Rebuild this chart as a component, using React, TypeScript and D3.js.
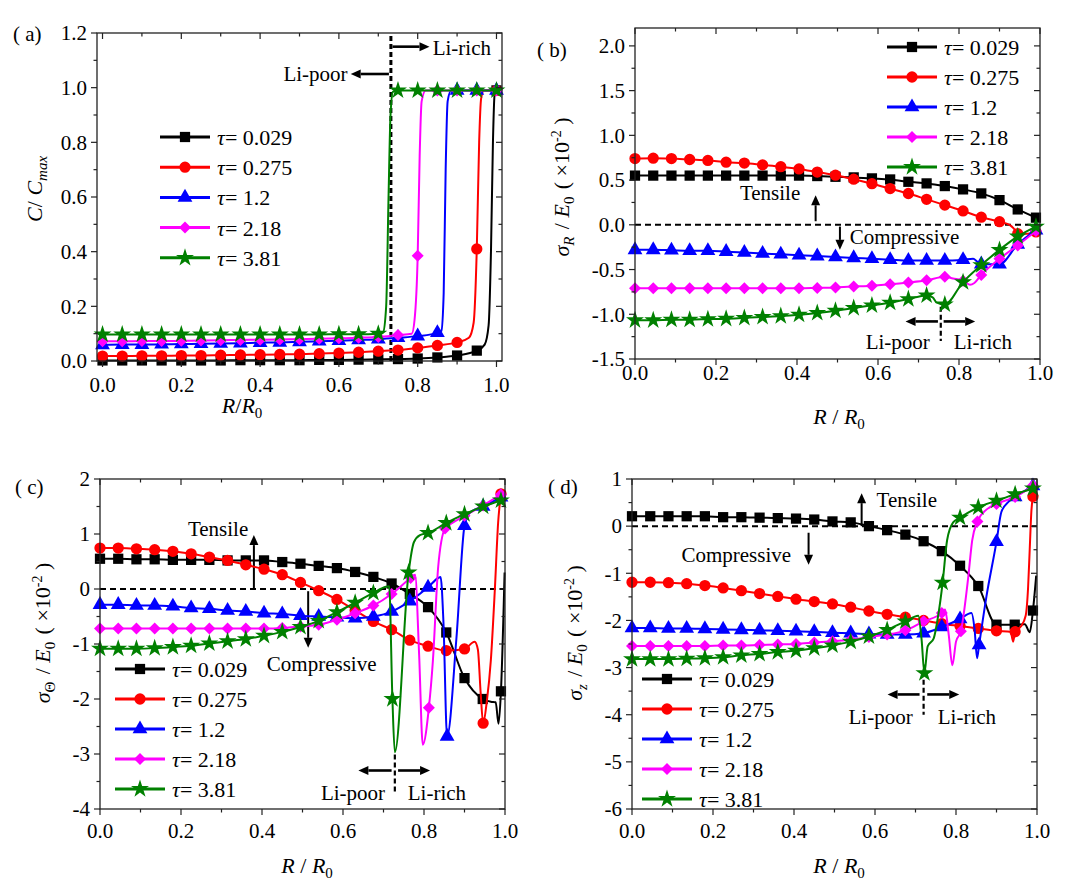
import React from "react";
import * as d3 from "d3";

// [R/R0, value, 1 = marker drawn]
type Pt = [number, number, number?];

const tauLabels = ["0.029", "0.275", "1.2", "2.18", "3.81"];
const seriesColors = ["#000000", "#ff0000", "#0000ff", "#ff00ff", "#008000"];
const seriesSymbols = ["square", "circle", "triangle", "diamond", "star"];

const xMajor = [0, 0.2, 0.4, 0.6, 0.8, 1.0];
const xMinor = [0.1, 0.3, 0.5, 0.7, 0.9];

// ---- (a) concentration C / Cmax
const aBlack: Pt[] = [
  [0, 0.002, 1], [0.05, 0.002, 1], [0.1, 0.002, 1], [0.15, 0.002, 1], [0.2, 0.002, 1], [0.25, 0.002, 1],
  [0.3, 0.002, 1], [0.35, 0.003, 1], [0.4, 0.003, 1], [0.45, 0.003, 1], [0.5, 0.003, 1], [0.55, 0.004, 1],
  [0.6, 0.004, 1], [0.65, 0.005, 1], [0.7, 0.006, 1], [0.75, 0.007, 1], [0.8, 0.009, 1], [0.85, 0.013, 1],
  [0.9, 0.02, 1], [0.95, 0.038, 1], [0.97, 0.06], [0.98, 0.13], [0.986, 0.4], [0.991, 0.8], [0.995, 0.97], [1, 0.99, 1],
];
const aRed: Pt[] = [
  [0, 0.018, 1], [0.05, 0.018, 1], [0.1, 0.019, 1], [0.15, 0.019, 1], [0.2, 0.02, 1], [0.25, 0.02, 1],
  [0.3, 0.021, 1], [0.35, 0.022, 1], [0.4, 0.023, 1], [0.45, 0.024, 1], [0.5, 0.025, 1], [0.55, 0.027, 1],
  [0.6, 0.029, 1], [0.65, 0.032, 1], [0.7, 0.036, 1], [0.75, 0.04, 1], [0.8, 0.048, 1], [0.85, 0.057, 1],
  [0.9, 0.068, 1], [0.93, 0.085], [0.942, 0.14], [0.95, 0.41, 1], [0.956, 0.8], [0.961, 0.96], [0.968, 0.99], [1, 0.99, 1],
];
const aBlue: Pt[] = [
  [0, 0.059, 1], [0.05, 0.06, 1], [0.1, 0.06, 1], [0.15, 0.061, 1], [0.2, 0.062, 1], [0.25, 0.063, 1],
  [0.3, 0.064, 1], [0.35, 0.065, 1], [0.4, 0.067, 1], [0.45, 0.068, 1], [0.5, 0.07, 1], [0.55, 0.072, 1],
  [0.6, 0.074, 1], [0.65, 0.077, 1], [0.7, 0.08, 1], [0.75, 0.085, 1], [0.8, 0.091, 1], [0.85, 0.103, 1],
  [0.86, 0.11], [0.866, 0.25], [0.871, 0.7], [0.876, 0.95], [0.885, 0.99], [0.9, 0.99, 1], [0.95, 0.99, 1], [1, 0.99, 1],
];
const aMagenta: Pt[] = [
  [0, 0.072, 1], [0.05, 0.072, 1], [0.1, 0.073, 1], [0.15, 0.073, 1], [0.2, 0.074, 1], [0.25, 0.075, 1],
  [0.3, 0.076, 1], [0.35, 0.077, 1], [0.4, 0.078, 1], [0.45, 0.079, 1], [0.5, 0.08, 1], [0.55, 0.081, 1],
  [0.6, 0.083, 1], [0.65, 0.085, 1], [0.7, 0.088, 1], [0.75, 0.095, 1], [0.785, 0.1], [0.792, 0.15],
  [0.8, 0.385, 1], [0.805, 0.75], [0.81, 0.95], [0.82, 0.99], [0.85, 0.99, 1], [0.9, 0.99, 1], [0.95, 0.99, 1], [1, 0.99, 1],
];
const aGreen: Pt[] = [
  [0, 0.097, 1], [0.05, 0.097, 1], [0.1, 0.097, 1], [0.15, 0.097, 1], [0.2, 0.097, 1], [0.25, 0.097, 1],
  [0.3, 0.097, 1], [0.35, 0.097, 1], [0.4, 0.097, 1], [0.45, 0.097, 1], [0.5, 0.097, 1], [0.55, 0.097, 1],
  [0.6, 0.098, 1], [0.65, 0.098, 1], [0.7, 0.1, 1], [0.712, 0.105], [0.72, 0.2], [0.726, 0.6], [0.731, 0.9],
  [0.737, 0.985], [0.75, 0.99, 1], [0.8, 0.99, 1], [0.85, 0.99, 1], [0.9, 0.99, 1], [0.95, 0.99, 1], [1, 0.99, 1],
];

// ---- (b) radial stress
const bBlack: Pt[] = [
  [0, 0.55, 1], [0.045, 0.55, 1], [0.09, 0.55, 1], [0.135, 0.55, 1], [0.18, 0.55, 1], [0.225, 0.55, 1],
  [0.27, 0.55, 1], [0.315, 0.55, 1], [0.36, 0.55, 1], [0.405, 0.55, 1], [0.45, 0.545, 1], [0.495, 0.537, 1],
  [0.54, 0.53, 1], [0.585, 0.519, 1], [0.63, 0.507, 1], [0.675, 0.481, 1], [0.72, 0.463, 1], [0.765, 0.433, 1],
  [0.81, 0.396, 1], [0.855, 0.351, 1], [0.9, 0.276, 1], [0.945, 0.172, 1], [0.99, 0.08, 1],
];
const bRed: Pt[] = [
  [0, 0.74, 1], [0.045, 0.745, 1], [0.09, 0.74, 1], [0.135, 0.73, 1], [0.18, 0.72, 1], [0.225, 0.7, 1],
  [0.27, 0.69, 1], [0.315, 0.67, 1], [0.36, 0.65, 1], [0.405, 0.625, 1], [0.45, 0.59, 1], [0.495, 0.555, 1],
  [0.54, 0.51, 1], [0.585, 0.46, 1], [0.63, 0.405, 1], [0.675, 0.35, 1], [0.72, 0.285, 1], [0.765, 0.22, 1],
  [0.81, 0.155, 1], [0.855, 0.085, 1], [0.9, 0.035, 1], [0.925, 0.0], [0.935, -0.04], [0.945, -0.1, 1],
  [0.97, -0.1], [0.99, -0.08, 1],
];
const bBlue: Pt[] = [
  [0, -0.28, 1], [0.045, -0.28, 1], [0.09, -0.285, 1], [0.135, -0.29, 1], [0.18, -0.29, 1], [0.225, -0.3, 1],
  [0.27, -0.31, 1], [0.315, -0.32, 1], [0.36, -0.33, 1], [0.405, -0.34, 1], [0.45, -0.35, 1], [0.495, -0.36, 1],
  [0.54, -0.37, 1], [0.585, -0.38, 1], [0.63, -0.39, 1], [0.675, -0.4, 1], [0.72, -0.4, 1], [0.765, -0.4, 1],
  [0.81, -0.39, 1], [0.835, -0.38], [0.845, -0.41], [0.855, -0.44, 1], [0.9, -0.44, 1], [0.945, -0.22, 1], [0.99, -0.06, 1],
];
const bMagenta: Pt[] = [
  [0, -0.71, 1], [0.045, -0.71, 1], [0.09, -0.71, 1], [0.135, -0.71, 1], [0.18, -0.71, 1], [0.225, -0.71, 1],
  [0.27, -0.71, 1], [0.315, -0.71, 1], [0.36, -0.71, 1], [0.405, -0.71, 1], [0.45, -0.705, 1], [0.495, -0.7, 1],
  [0.54, -0.69, 1], [0.585, -0.68, 1], [0.63, -0.665, 1], [0.675, -0.645, 1], [0.72, -0.62, 1], [0.765, -0.58, 1],
  [0.785, -0.6], [0.81, -0.625, 1], [0.827, -0.67], [0.838, -0.65], [0.855, -0.56, 1], [0.9, -0.38, 1],
  [0.945, -0.23, 1], [0.99, -0.07, 1],
];
const bGreen: Pt[] = [
  [0, -1.067, 1], [0.045, -1.067, 1], [0.09, -1.06, 1], [0.135, -1.06, 1], [0.18, -1.055, 1], [0.225, -1.05, 1],
  [0.27, -1.04, 1], [0.315, -1.03, 1], [0.36, -1.02, 1], [0.405, -1.005, 1], [0.45, -0.985, 1], [0.495, -0.96, 1],
  [0.54, -0.93, 1], [0.585, -0.9, 1], [0.63, -0.87, 1], [0.675, -0.83, 1], [0.72, -0.79, 1], [0.735, -0.81],
  [0.745, -0.87], [0.765, -0.89, 1], [0.81, -0.64, 1], [0.855, -0.45, 1], [0.9, -0.28, 1], [0.945, -0.13, 1],
  [0.99, -0.02, 1],
];

// ---- (c) hoop stress
const cBlack: Pt[] = [
  [0, 0.55, 1], [0.045, 0.55, 1], [0.09, 0.54, 1], [0.135, 0.54, 1], [0.18, 0.53, 1], [0.225, 0.53, 1],
  [0.27, 0.53, 1], [0.315, 0.52, 1], [0.36, 0.52, 1], [0.405, 0.52, 1], [0.45, 0.49, 1], [0.495, 0.46, 1],
  [0.54, 0.42, 1], [0.585, 0.38, 1], [0.63, 0.31, 1], [0.675, 0.22, 1], [0.72, 0.1, 1], [0.765, -0.09, 1],
  [0.81, -0.33, 1], [0.855, -0.79, 1], [0.9, -1.62, 1], [0.945, -2.0, 1], [0.965, -2.05], [0.977, -2.06],
  [0.984, -2.45], [0.99, -1.86, 1], [0.999, 0.3],
];
const cRed: Pt[] = [
  [0, 0.745, 1], [0.045, 0.745, 1], [0.09, 0.73, 1], [0.135, 0.715, 1], [0.18, 0.685, 1], [0.225, 0.64, 1],
  [0.27, 0.58, 1], [0.315, 0.52, 1], [0.36, 0.44, 1], [0.405, 0.36, 1], [0.45, 0.26, 1], [0.495, 0.12, 1],
  [0.54, -0.03, 1], [0.585, -0.19, 1], [0.63, -0.39, 1], [0.675, -0.59, 1], [0.72, -0.74, 1], [0.765, -0.93, 1],
  [0.81, -1.04, 1], [0.855, -1.12, 1], [0.9, -1.09, 1], [0.925, -0.96], [0.933, -1.1], [0.94, -1.9],
  [0.946, -2.44, 1], [0.955, -2.05], [0.965, -1.3], [0.975, 0.0], [0.983, 1.2], [0.99, 1.73, 1],
];
const cBlue: Pt[] = [
  [0, -0.285, 1], [0.045, -0.285, 1], [0.09, -0.3, 1], [0.135, -0.3, 1], [0.18, -0.315, 1], [0.225, -0.345, 1],
  [0.27, -0.36, 1], [0.315, -0.39, 1], [0.36, -0.41, 1], [0.405, -0.44, 1], [0.45, -0.455, 1], [0.495, -0.485, 1],
  [0.54, -0.5, 1], [0.585, -0.515, 1], [0.63, -0.53, 1], [0.675, -0.5, 1], [0.72, -0.41, 1], [0.765, -0.22, 1],
  [0.81, 0.03, 1], [0.835, 0.2], [0.841, 0.22], [0.848, -0.6], [0.857, -2.68, 1], [0.88, -0.9], [0.9, 1.15, 1],
  [0.912, 1.38], [0.946, 1.5, 1], [0.99, 1.67, 1],
];
const cMagenta: Pt[] = [
  [0, -0.72, 1], [0.045, -0.72, 1], [0.09, -0.72, 1], [0.135, -0.72, 1], [0.18, -0.72, 1], [0.225, -0.72, 1],
  [0.27, -0.72, 1], [0.315, -0.72, 1], [0.36, -0.72, 1], [0.405, -0.72, 1], [0.45, -0.71, 1], [0.495, -0.68, 1],
  [0.54, -0.65, 1], [0.585, -0.56, 1], [0.63, -0.44, 1], [0.675, -0.3, 1], [0.72, -0.09, 1], [0.767, 0.2, 1],
  [0.778, 0.26], [0.788, -1.2], [0.797, -2.83], [0.812, -2.16, 1], [0.822, -1.3], [0.835, 0.4], [0.852, 1.1, 1],
  [0.87, 1.2], [0.9, 1.33, 1], [0.946, 1.52, 1], [0.99, 1.72, 1],
];
const cGreen: Pt[] = [
  [0, -1.085, 1], [0.045, -1.085, 1], [0.09, -1.085, 1], [0.135, -1.075, 1], [0.18, -1.055, 1], [0.225, -1.03, 1],
  [0.27, -0.99, 1], [0.315, -0.95, 1], [0.36, -0.91, 1], [0.405, -0.85, 1], [0.45, -0.78, 1], [0.495, -0.69, 1],
  [0.54, -0.58, 1], [0.585, -0.42, 1], [0.63, -0.25, 1], [0.675, -0.07, 1], [0.706, 0.04], [0.714, 0.05],
  [0.722, -2.0, 1], [0.728, -2.97], [0.762, 0.3, 1], [0.775, 0.85], [0.79, 0.98], [0.81, 1.02, 1],
  [0.855, 1.2, 1], [0.9, 1.36, 1], [0.946, 1.5, 1], [0.99, 1.61, 1],
];

// ---- (d) axial stress
const dBlack: Pt[] = [
  [0, 0.21, 1], [0.045, 0.21, 1], [0.09, 0.21, 1], [0.135, 0.21, 1], [0.18, 0.21, 1], [0.225, 0.19, 1],
  [0.27, 0.19, 1], [0.315, 0.18, 1], [0.36, 0.17, 1], [0.405, 0.16, 1], [0.45, 0.14, 1], [0.495, 0.1, 1],
  [0.54, 0.08, 1], [0.585, 0.0, 1], [0.63, -0.085, 1], [0.675, -0.18, 1], [0.72, -0.32, 1], [0.765, -0.53, 1],
  [0.81, -0.84, 1], [0.855, -1.27, 1], [0.9, -2.09, 1], [0.945, -2.09, 1], [0.97, -2.08], [0.982, -2.25],
  [0.99, -1.79, 1], [0.998, -1.05],
];
const dRed: Pt[] = [
  [0, -1.19, 1], [0.045, -1.19, 1], [0.09, -1.2, 1], [0.135, -1.22, 1], [0.18, -1.26, 1], [0.225, -1.31, 1],
  [0.27, -1.37, 1], [0.315, -1.43, 1], [0.36, -1.49, 1], [0.405, -1.55, 1], [0.45, -1.6, 1], [0.495, -1.65, 1],
  [0.54, -1.72, 1], [0.585, -1.8, 1], [0.63, -1.87, 1], [0.675, -1.93, 1], [0.72, -2.0, 1], [0.765, -2.07, 1],
  [0.81, -2.12, 1], [0.855, -2.17, 1], [0.9, -2.22, 1], [0.935, -2.24], [0.941, -2.45], [0.946, -2.24, 1],
  [0.96, -2.13], [0.972, -1.9], [0.978, -1.3], [0.982, -0.5], [0.986, 0.3], [0.99, 0.63, 1],
];
const dBlue: Pt[] = [
  [0, -2.16, 1], [0.045, -2.16, 1], [0.09, -2.17, 1], [0.135, -2.17, 1], [0.18, -2.18, 1], [0.225, -2.19, 1],
  [0.27, -2.2, 1], [0.315, -2.21, 1], [0.36, -2.22, 1], [0.405, -2.23, 1], [0.45, -2.24, 1], [0.495, -2.26, 1],
  [0.54, -2.27, 1], [0.585, -2.29, 1], [0.63, -2.3, 1], [0.675, -2.3, 1], [0.72, -2.27, 1], [0.765, -2.14, 1],
  [0.81, -1.97, 1], [0.838, -1.84], [0.846, -2.2], [0.852, -2.8], [0.857, -2.52, 1], [0.875, -1.5],
  [0.9, -0.33, 1], [0.912, 0.3], [0.93, 0.52], [0.946, 0.62, 1], [0.99, 0.85, 1],
];
const dMagenta: Pt[] = [
  [0, -2.54, 1], [0.045, -2.54, 1], [0.09, -2.54, 1], [0.135, -2.54, 1], [0.18, -2.54, 1], [0.225, -2.53, 1],
  [0.27, -2.53, 1], [0.315, -2.52, 1], [0.36, -2.51, 1], [0.405, -2.5, 1], [0.45, -2.47, 1], [0.495, -2.44, 1],
  [0.54, -2.41, 1], [0.585, -2.35, 1], [0.63, -2.3, 1], [0.675, -2.21, 1], [0.72, -2.02, 1], [0.765, -1.84, 1],
  [0.773, -1.77], [0.782, -2.3], [0.791, -2.95], [0.8, -2.45], [0.812, -2.23, 1], [0.83, -1.1], [0.84, -0.3],
  [0.853, 0.1, 1], [0.875, 0.35], [0.9, 0.47, 1], [0.946, 0.62, 1], [0.99, 0.86, 1],
];
const dGreen: Pt[] = [
  [0, -2.82, 1], [0.045, -2.82, 1], [0.09, -2.82, 1], [0.135, -2.81, 1], [0.18, -2.8, 1], [0.225, -2.78, 1],
  [0.27, -2.74, 1], [0.315, -2.71, 1], [0.36, -2.67, 1], [0.405, -2.64, 1], [0.45, -2.59, 1], [0.495, -2.53, 1],
  [0.54, -2.45, 1], [0.585, -2.34, 1], [0.63, -2.2, 1], [0.675, -2.02, 1], [0.707, -1.9], [0.715, -2.4],
  [0.722, -3.12, 1], [0.73, -2.55], [0.745, -2.38], [0.756, -1.9], [0.767, -1.2, 1], [0.778, -0.3],
  [0.793, 0.08], [0.81, 0.18, 1], [0.855, 0.4, 1], [0.9, 0.54, 1], [0.946, 0.68, 1], [0.99, 0.8, 1],
];

const FONT = "Liberation Serif, Times New Roman, serif";

const symPaths: Record<string, string> = {
  square: d3.symbol(d3.symbolSquare, 105)() || "",
  circle: d3.symbol(d3.symbolCircle, 100)() || "",
  triangle: d3.symbol(d3.symbolTriangle, 95)() || "",
  diamond: d3.symbol(d3.symbolSquare, 72)() || "",
  star: d3.symbol(d3.symbolStar, 100)() || "",
};

const Marker = ({ kind, x, y, color }: { kind: string; x: number; y: number; color: string }) => (
  <path
    d={symPaths[kind]}
    transform={`translate(${x},${y})${kind === "diamond" ? " rotate(45)" : ""}`}
    fill={color}
  />
);

const Arrow = ({ x1, y1, x2, y2, w = 2.2 }: { x1: number; y1: number; x2: number; y2: number; w?: number }) => {
  const len = Math.hypot(x2 - x1, y2 - y1);
  const ux = (x2 - x1) / len;
  const uy = (y2 - y1) / len;
  const hl = 10, hw = 4.5;
  const bx = x2 - ux * hl, by = y2 - uy * hl;
  return (
    <g>
      <line x1={x1} y1={y1} x2={bx} y2={by} stroke="#000" strokeWidth={w} />
      <polygon points={`${x2},${y2} ${bx - uy * hw},${by + ux * hw} ${bx + uy * hw},${by - ux * hw}`} fill="#000" />
    </g>
  );
};

type Scale = d3.ScaleLinear<number, number>;

type PanelProps = {
  frame: [number, number, number, number];
  xDomain: [number, number];
  yDomain: [number, number];
  yMajor: number[];
  yMinor: number[];
  yFmt: (v: number) => string;
  data: Pt[][];
  legend: [number, number, number];
  xLabelY: number;
  extra: (x: Scale, y: Scale) => React.ReactNode;
};

const Panel = ({ frame, xDomain, yDomain, yMajor, yMinor, yFmt, data, legend, xLabelY, extra }: PanelProps) => {
  const [l, t, r, b] = frame;
  const x = d3.scaleLinear().domain(xDomain).range([l, r]);
  const y = d3.scaleLinear().domain(yDomain).range([b, t]);
  const line = d3
    .line<Pt>()
    .x((d) => x(d[0]))
    .y((d) => y(d[1]))
    .curve(d3.curveMonotoneX);
  const tk = "#222";
  return (
    <g>
      {extra(x, y)}
      {data.map((s, i) => (
        <g key={i}>
          <path d={line(s) || ""} fill="none" stroke={seriesColors[i]} strokeWidth={2} />
          {s
            .filter((p) => p[2])
            .map((p, j) => (
              <Marker key={j} kind={seriesSymbols[i]} x={x(p[0])} y={y(p[1])} color={seriesColors[i]} />
            ))}
        </g>
      ))}
      <rect x={l} y={t} width={r - l} height={b - t} fill="none" stroke={tk} strokeWidth={1.3} />
      {xMajor.map((v) => (
        <g key={"xm" + v}>
          <line x1={x(v)} x2={x(v)} y1={b} y2={b + 6} stroke={tk} strokeWidth={1.2} />
          <line x1={x(v)} x2={x(v)} y1={t} y2={t + 6} stroke={tk} strokeWidth={1.2} />
          <text x={x(v)} y={xLabelY} textAnchor="middle" fontSize={21}>
            {v.toFixed(1)}
          </text>
        </g>
      ))}
      {xMinor.map((v) => (
        <g key={"xn" + v}>
          <line x1={x(v)} x2={x(v)} y1={b} y2={b + 3.5} stroke={tk} strokeWidth={1.2} />
          <line x1={x(v)} x2={x(v)} y1={t} y2={t + 3.5} stroke={tk} strokeWidth={1.2} />
        </g>
      ))}
      {yMajor.map((v) => (
        <g key={"ym" + v}>
          <line x1={l - 6} x2={l} y1={y(v)} y2={y(v)} stroke={tk} strokeWidth={1.2} />
          <line x1={r - 6} x2={r} y1={y(v)} y2={y(v)} stroke={tk} strokeWidth={1.2} />
          <text x={l - 10} y={y(v)} dy="0.35em" textAnchor="end" fontSize={21}>
            {yFmt(v)}
          </text>
        </g>
      ))}
      {yMinor.map((v) => (
        <g key={"yn" + v}>
          <line x1={l - 3.5} x2={l} y1={y(v)} y2={y(v)} stroke={tk} strokeWidth={1.2} />
          <line x1={r - 3.5} x2={r} y1={y(v)} y2={y(v)} stroke={tk} strokeWidth={1.2} />
        </g>
      ))}
      {tauLabels.map((lab, i) => {
        const ly = legend[1] + i * legend[2];
        return (
          <g key={"lg" + i}>
            <line x1={legend[0]} x2={legend[0] + 50} y1={ly} y2={ly} stroke={seriesColors[i]} strokeWidth={3} />
            <Marker kind={seriesSymbols[i]} x={legend[0] + 25} y={ly} color={seriesColors[i]} />
            <text x={legend[0] + 57} y={ly + 8} fontSize={22}>
              <tspan fontStyle="italic">τ</tspan>= {lab}
            </text>
          </g>
        );
      })}
    </g>
  );
};

const zeroLine = (x: Scale, y: Scale) => (
  <line x1={x(0)} x2={x(1)} y1={y(0)} y2={y(0)} stroke="#000" strokeWidth={2} strokeDasharray="6,4" />
);

type Ann = {
  tensile: [number, number];
  upArrow: [number, number, number];
  compressive: [number, number];
  downArrow: [number, number, number];
  liLine: [number, number, number];
  liArrows: [number, number, number, number, number];
  liText: [number, number, number];
};

const stressNotes = (a: Ann) => (x: Scale, y: Scale) => (
  <g>
    {zeroLine(x, y)}
    <text x={x(a.tensile[0])} y={y(a.tensile[1])} fontSize={21}>Tensile</text>
    <Arrow x1={x(a.upArrow[0])} y1={y(a.upArrow[1])} x2={x(a.upArrow[0])} y2={y(a.upArrow[2])} w={2} />
    <text x={x(a.compressive[0])} y={y(a.compressive[1])} fontSize={21}>Compressive</text>
    <Arrow x1={x(a.downArrow[0])} y1={y(a.downArrow[1])} x2={x(a.downArrow[0])} y2={y(a.downArrow[2])} w={2} />
    <line
      x1={x(a.liLine[0])}
      x2={x(a.liLine[0])}
      y1={y(a.liLine[1])}
      y2={y(a.liLine[2])}
      stroke="#000"
      strokeWidth={2.2}
      strokeDasharray="5,3"
    />
    <Arrow x1={x(a.liArrows[1])} y1={y(a.liArrows[0])} x2={x(a.liArrows[2])} y2={y(a.liArrows[0])} w={2.6} />
    <Arrow x1={x(a.liArrows[3])} y1={y(a.liArrows[0])} x2={x(a.liArrows[4])} y2={y(a.liArrows[0])} w={2.6} />
    <text x={x(a.liText[0])} y={y(a.liText[2])} fontSize={21} textAnchor="end">Li-poor</text>
    <text x={x(a.liText[1])} y={y(a.liText[2])} fontSize={21}>Li-rich</text>
  </g>
);

const notesA = (x: Scale, y: Scale) => (
  <g>
    <line x1={x(0.732)} x2={x(0.732)} y1={y(0)} y2={y(1.2)} stroke="#000" strokeWidth={3} strokeDasharray="5,3" />
    <Arrow x1={x(0.736)} y1={y(1.15)} x2={x(0.83)} y2={y(1.15)} w={2.6} />
    <text x={x(0.838)} y={y(1.12)} fontSize={21}>Li-rich</text>
    <Arrow x1={x(0.727)} y1={y(1.05)} x2={x(0.63)} y2={y(1.05)} w={2.6} />
    <text x={x(0.622)} y={y(1.024)} fontSize={21} textAnchor="end">Li-poor</text>
  </g>
);

const Sub = ({ children, italic = false }: { children: React.ReactNode; italic?: boolean }) => (
  <>
    <tspan fontSize={15} dy={5} fontStyle={italic ? "italic" : "normal"}>
      {children}
    </tspan>
    <tspan dy={-5}>{"\u200a"}</tspan>
  </>
);

const StressTitle = ({ x, y, sub, subItalic }: { x: number; y: number; sub: string; subItalic: boolean }) => (
  <text transform={`translate(${x},${y}) rotate(-90)`} textAnchor="middle" fontSize={22}>
    <tspan fontStyle="italic">σ</tspan>
    <Sub italic={subItalic}>{sub}</Sub>
    <tspan> / </tspan>
    <tspan fontStyle="italic">E</tspan>
    <Sub>0</Sub>
    <tspan> ( ×10</tspan>
    <tspan fontSize={14} dy={-8}>-2</tspan>
    <tspan dy={8}> )</tspan>
  </text>
);

const XTitle = ({ x, y, spaced }: { x: number; y: number; spaced: boolean }) => (
  <text x={x} y={y} textAnchor="middle" fontSize={22}>
    <tspan fontStyle="italic">R</tspan>
    <tspan>{spaced ? " / " : "/"}</tspan>
    <tspan fontStyle="italic">R</tspan>
    <Sub>0</Sub>
  </text>
);

export default function App() {
  const f1 = (v: number) => v.toFixed(1);
  const f0 = (v: number) => String(v);
  return (
    <svg
      width={1080}
      height={889}
      style={{ position: "absolute", left: 0, top: 0, background: "#fff", fontFamily: FONT }}
    >
      <rect width={1080} height={889} fill="#fff" />

      {/* (a) */}
      <Panel
        frame={[97, 33, 502, 361]}
        xDomain={[-0.014, 1.014]}
        yDomain={[0, 1.2]}
        yMajor={[0, 0.2, 0.4, 0.6, 0.8, 1.0, 1.2]}
        yMinor={[0.1, 0.3, 0.5, 0.7, 0.9, 1.1]}
        yFmt={f1}
        data={[aBlack, aRed, aBlue, aMagenta, aGreen]}
        legend={[160, 137, 30.2]}
        xLabelY={392}
        extra={notesA}
      />
      <text x={13} y={41} fontSize={21}>( a)</text>
      <text transform="translate(42,188) rotate(-90)" textAnchor="middle" fontSize={22}>
        <tspan fontStyle="italic">C</tspan>
        <tspan>/ </tspan>
        <tspan fontStyle="italic">C</tspan>
        <Sub italic>max</Sub>
      </text>
      <XTitle x={243} y={413} spaced={false} />

      {/* (b) */}
      <Panel
        frame={[635, 28, 1040, 359]}
        xDomain={[0, 1]}
        yDomain={[-1.5, 2.2]}
        yMajor={[-1.5, -1, -0.5, 0, 0.5, 1, 1.5, 2]}
        yMinor={[-1.25, -0.75, -0.25, 0.25, 0.75, 1.25, 1.75]}
        yFmt={f1}
        data={[bBlack, bRed, bBlue, bMagenta, bGreen]}
        legend={[887, 47, 30]}
        xLabelY={380}
        extra={stressNotes({
          tensile: [0.259, 0.28],
          upArrow: [0.446, 0.04, 0.33],
          compressive: [0.53, -0.21],
          downArrow: [0.506, -0.02, -0.28],
          liLine: [0.755, -0.915, -1.3],
          liArrows: [-1.08, 0.748, 0.668, 0.762, 0.84],
          liText: [0.728, 0.787, -1.39],
        })}
      />
      <text x={537} y={57} fontSize={21}>( b)</text>
      <StressTitle x={569} y={187} sub="R" subItalic />
      <XTitle x={840} y={424} spaced />

      {/* (c) */}
      <Panel
        frame={[100, 479, 505, 809]}
        xDomain={[0, 1]}
        yDomain={[-4, 2]}
        yMajor={[-4, -3, -2, -1, 0, 1, 2]}
        yMinor={[-3.5, -2.5, -1.5, -0.5, 0.5, 1.5]}
        yFmt={f0}
        data={[cBlack, cRed, cBlue, cMagenta, cGreen]}
        legend={[115, 669, 30]}
        xLabelY={838}
        extra={stressNotes({
          tensile: [0.217, 0.97],
          upArrow: [0.38, 0.0, 0.98],
          compressive: [0.412, -1.49],
          downArrow: [0.514, -0.04, -1.07],
          liLine: [0.728, -3.01, -3.68],
          liArrows: [-3.3, 0.72, 0.638, 0.736, 0.815],
          liText: [0.704, 0.76, -3.83],
        })}
      />
      <text x={15} y={494} fontSize={21}>( c)</text>
      <StressTitle x={50} y={633} sub="Θ" subItalic={false} />
      <XTitle x={308} y={873} spaced />

      {/* (d) */}
      <Panel
        frame={[632, 479, 1037, 809]}
        xDomain={[0, 1]}
        yDomain={[-6, 1]}
        yMajor={[-6, -5, -4, -3, -2, -1, 0, 1]}
        yMinor={[-5.5, -4.5, -3.5, -2.5, -1.5, -0.5, 0.5]}
        yFmt={f0}
        data={[dBlack, dRed, dBlue, dMagenta, dGreen]}
        legend={[642, 679, 30]}
        xLabelY={838}
        extra={stressNotes({
          tensile: [0.604, 0.41],
          upArrow: [0.567, 0.0, 0.7],
          compressive: [0.122, -0.76],
          downArrow: [0.436, -0.14, -0.82],
          liLine: [0.72, -3.26, -4.0],
          liArrows: [-3.57, 0.71, 0.631, 0.729, 0.808],
          liText: [0.693, 0.755, -4.19],
        })}
      />
      <text x={548} y={494} fontSize={21}>( d)</text>
      <StressTitle x={582} y={633} sub="z" subItalic />
      <XTitle x={840} y={873} spaced />
    </svg>
  );
}
